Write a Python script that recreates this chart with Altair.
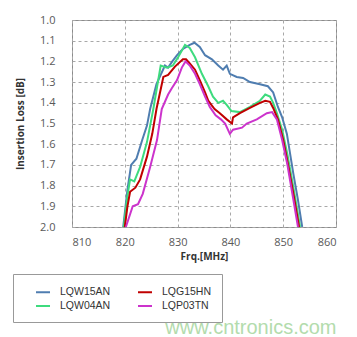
import altair as alt
import pandas as pd

series_names = ["LQW15AN", "LQW04AN", "LQG15HN", "LQP03TN"]
series_colors = ["#4F7DB0", "#3EDB7E", "#C00000", "#CC33CC"]

blue_x = [819.7, 820.5, 821.2, 822.2, 823.3, 824.2, 824.8, 826.0, 827.6, 828.2, 829.0, 829.9, 831.0, 832.3, 833.2, 834.2, 835.2, 836.5, 837.7, 838.6, 839.3, 839.9, 841.2, 842.4, 843.7, 845.6, 847.1, 848.1, 849.0, 849.8, 850.7, 851.9, 852.8, 853.6]
blue_y = [2.0, 1.82, 1.70, 1.67, 1.58, 1.51, 1.43, 1.31, 1.22, 1.23, 1.20, 1.17, 1.14, 1.12, 1.11, 1.13, 1.17, 1.19, 1.22, 1.24, 1.22, 1.26, 1.275, 1.28, 1.30, 1.31, 1.32, 1.35, 1.42, 1.47, 1.55, 1.74, 1.87, 2.0]

green_x = [819.8, 820.5, 821.0, 821.8, 822.9, 824.2, 825.4, 826.8, 828.0, 829.1, 830.1, 831.4, 832.3, 833.3, 834.6, 835.8, 836.7, 837.7, 838.6, 839.3, 840.2, 841.8, 843.7, 845.6, 846.6, 847.5, 848.1, 848.8, 849.8, 850.8, 852.0, 853.2]
green_y = [2.0, 1.85, 1.77, 1.78, 1.71, 1.59, 1.43, 1.22, 1.23, 1.22, 1.18, 1.12, 1.135, 1.18, 1.26, 1.32, 1.37, 1.40, 1.39, 1.41, 1.44, 1.445, 1.42, 1.39, 1.36, 1.37, 1.40, 1.45, 1.53, 1.65, 1.82, 2.0]

red_x = [820.0, 820.5, 821.0, 822.0, 822.9, 824.2, 825.2, 826.0, 827.3, 828.2, 829.5, 831.0, 831.6, 832.3, 833.3, 834.2, 835.2, 835.8, 837.0, 838.0, 839.3, 840.3, 840.5, 841.8, 843.7, 845.6, 846.6, 847.5, 848.1, 849.0, 850.0, 851.0, 852.0, 853.0]
red_y = [2.0, 1.90, 1.83, 1.81, 1.77, 1.66, 1.55, 1.43, 1.275, 1.265, 1.225, 1.19, 1.19, 1.21, 1.24, 1.29, 1.35, 1.39, 1.43, 1.45, 1.48, 1.50, 1.47, 1.45, 1.425, 1.40, 1.39, 1.395, 1.425, 1.48, 1.58, 1.71, 1.85, 2.0]

pink_x = [820.2, 821.5, 822.5, 823.4, 824.8, 826.1, 827.0, 828.2, 828.9, 829.9, 830.8, 831.5, 832.3, 833.3, 834.2, 835.2, 836.1, 837.2, 838.2, 839.0, 839.9, 840.5, 842.2, 843.1, 845.0, 846.9, 847.9, 848.8, 849.8, 850.8, 851.8, 852.8]
pink_y = [2.0, 1.90, 1.89, 1.84, 1.71, 1.58, 1.43, 1.36, 1.33, 1.29, 1.23, 1.20, 1.22, 1.26, 1.31, 1.37, 1.42, 1.46, 1.48, 1.50, 1.55, 1.53, 1.52, 1.50, 1.48, 1.45, 1.445, 1.48, 1.58, 1.70, 1.85, 2.0]

x_ticks = [810, 820, 830, 840, 850, 860]
y_ticks = [1.0, 1.1, 1.2, 1.3, 1.4, 1.5, 1.6, 1.7, 1.8, 1.9, 2.0]

frames = []
for name, xs, ys in [("LQW15AN", blue_x, blue_y), ("LQW04AN", green_x, green_y),
                     ("LQG15HN", red_x, red_y), ("LQP03TN", pink_x, pink_y)]:
    frames.append(pd.DataFrame({"series": name, "freq": xs, "loss": ys}))
df = pd.concat(frames, ignore_index=True)

chart = alt.Chart(df).mark_line(strokeWidth=2, clip=True).encode(
    x=alt.X("freq:Q", title="Frq.[MHz]",
            scale=alt.Scale(domain=[810, 860], nice=False),
            axis=alt.Axis(values=x_ticks, format="d", tickSize=0, labelPadding=9,
                          titlePadding=4, gridDash=[3, 3], gridColor="#a8a8a8")),
    y=alt.Y("loss:Q", title="Insertion Loss [dB]",
            scale=alt.Scale(domain=[1.0, 2.0], reverse=True, nice=False, zero=False),
            axis=alt.Axis(values=y_ticks, format=".1f", tickSize=0, labelPadding=17,
                          titlePadding=14, gridDash=[3, 3], gridColor="#a8a8a8")),
    color=alt.Color("series:N", title=None,
                    scale=alt.Scale(domain=series_names, range=series_colors),
                    legend=alt.Legend(orient="none", legendX=-59, legendY=254,
                                      columns=2, columnPadding=14, rowPadding=0,
                                      padding=10, strokeColor="#999999",
                                      symbolType="stroke", symbolSize=196,
                                      symbolOffset=12,
                                      symbolStrokeWidth=2, labelFontSize=10.5,
                                      labelFont="Liberation Sans", labelColor="#333333",
                                      labelOffset=9)),
).properties(
    width=264, height=207,
    title=alt.TitleParams("www.cntronics.com", orient="bottom", anchor="end",
                          color="#b3dcad", fontSize=20, fontWeight="normal",
                          font="Liberation Sans", offset=0, dy=-5),
    padding={"left": 64, "top": 12, "right": 13, "bottom": 110},
    autosize=alt.AutoSizeParams(type="none"),
).configure_view(
    stroke="#8c8c8c", strokeWidth=1
).configure_axis(
    labelFont="Open Sans", labelFontSize=11, labelColor="#595959",
    titleFont="Open Sans", titleFontSize=10, titleFontWeight="bold", titleColor="#333333",
    domain=False
)

chart.save("out.html", embed_options={"renderer": "svg", "actions": False})
